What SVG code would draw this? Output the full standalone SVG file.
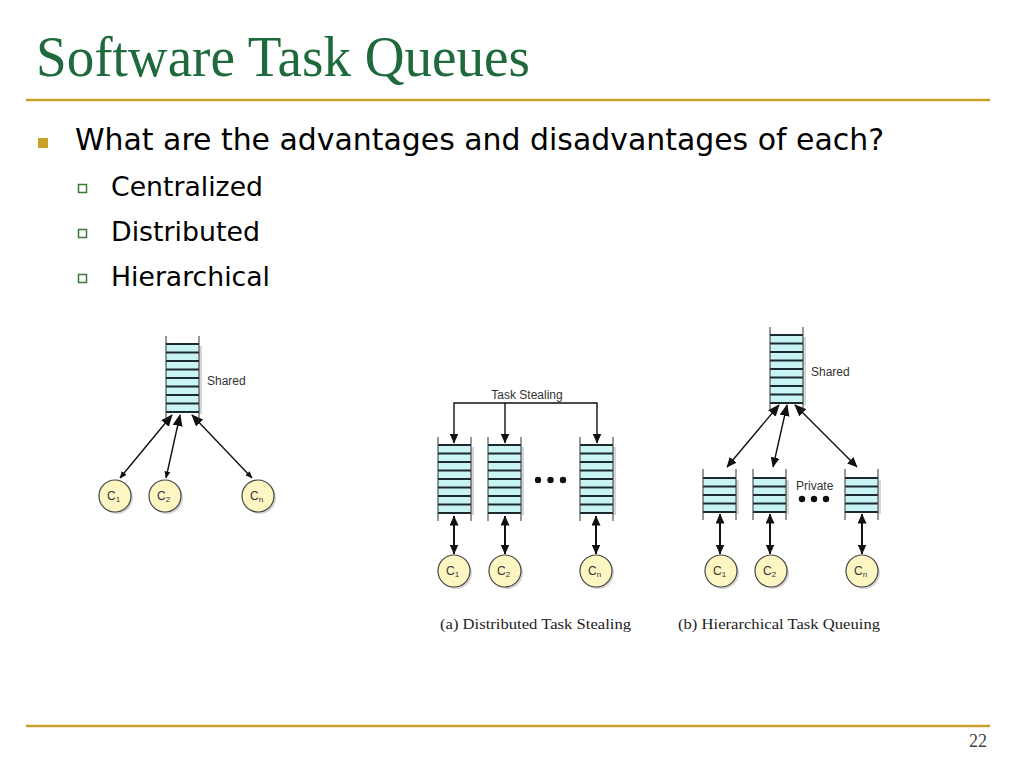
<svg xmlns="http://www.w3.org/2000/svg" xmlns:xlink="http://www.w3.org/1999/xlink" width="1024" height="768" viewBox="0 0 1024 768">
<style>
.title{font-family:"Liberation Serif",serif;font-size:56px;fill:#1e6a3c}
.b1{font-family:"DejaVu Sans",sans-serif;font-size:30px;fill:#000}
.b2{font-family:"DejaVu Sans",sans-serif;font-size:27px;fill:#000}
.lbl{font-family:"Liberation Sans",sans-serif;font-size:12px;fill:#333}
.cl{font-family:"Liberation Sans",sans-serif;font-size:12px;fill:#333}
.cap{font-family:"Liberation Serif",serif;font-size:15px;fill:#222}
.rule{stroke:#c9a02a;stroke-width:2.5}
.conn{stroke:#111;stroke-width:1.4;fill:none}
.conn2{stroke:#111;stroke-width:2;fill:none}
.cell{fill:#c8f4f4}
.hl{stroke:#1b2a30;stroke-width:2.2}
.side{stroke:#333;stroke-width:1}
.shadow{fill:#d6d6d6}
.core{fill:#fdf6c3;stroke:#444;stroke-width:1.2}
.dot{fill:#111}
</style>
<defs>
<marker id="hb" markerUnits="userSpaceOnUse" markerWidth="12" markerHeight="10" refX="11" refY="5" orient="auto-start-reverse"><path d="M0,0 L12,5 L0,10 z" fill="#111"/></marker>
<marker id="hs" markerUnits="userSpaceOnUse" markerWidth="7" markerHeight="6" refX="6.5" refY="3" orient="auto-start-reverse"><path d="M0,0 L7,3 L0,6 z" fill="#111"/></marker>
<marker id="hm" markerUnits="userSpaceOnUse" markerWidth="10" markerHeight="9" refX="9.5" refY="4.5" orient="auto-start-reverse"><path d="M0,0 L10,4.5 L0,9 z" fill="#111"/></marker>
<g id="q8">
<rect class="shadow" x="33" y="2" width="3" height="68"/>
<rect class="cell" x="0" y="0" width="33" height="68"/>
<path class="hl" d="M0,0H33M0,8.5H33M0,17H33M0,25.5H33M0,34H33M0,42.5H33M0,51H33M0,59.5H33M0,68H33"/>
<path class="side" d="M0,-8V76M33,-8V76"/>
</g>
<g id="q4">
<rect class="shadow" x="33" y="2" width="3" height="34"/>
<rect class="cell" x="0" y="0" width="33" height="34"/>
<path class="hl" d="M0,0H33M0,8.5H33M0,17H33M0,25.5H33M0,34H33"/>
<path class="side" d="M0,-9V42M33,-9V42"/>
</g>
<g id="core">
<circle class="shadow" cx="2" cy="2" r="16"/>
<circle class="core" cx="0" cy="0" r="16"/>
</g>
</defs>
<rect width="1024" height="768" fill="#fff"/>

<g id="header">
<text class="title" x="36" y="76" textLength="494" lengthAdjust="spacingAndGlyphs">Software Task Queues</text>
<line class="rule" x1="26" y1="100" x2="990" y2="100"/>
<rect x="38" y="138" width="10" height="10" fill="#c9a02a"/>
<text class="b1" x="75" y="150" textLength="809" lengthAdjust="spacingAndGlyphs">What are the advantages and disadvantages of each?</text>
<rect x="78.5" y="184.5" width="8" height="8" fill="none" stroke="#3a7a3a" stroke-width="1.5"/>
<text class="b2" x="111" y="196" textLength="152" lengthAdjust="spacingAndGlyphs">Centralized</text>
<rect x="78.5" y="229.5" width="8" height="8" fill="none" stroke="#3a7a3a" stroke-width="1.5"/>
<text class="b2" x="111" y="241" textLength="149" lengthAdjust="spacingAndGlyphs">Distributed</text>
<rect x="78.5" y="274.5" width="8" height="8" fill="none" stroke="#3a7a3a" stroke-width="1.5"/>
<text class="b2" x="111" y="286" textLength="159" lengthAdjust="spacingAndGlyphs">Hierarchical</text>
</g>

<g id="connectors">
<line class="conn" x1="120" y1="478" x2="172" y2="415" marker-start="url(#hs)" marker-end="url(#hb)"/>
<line class="conn" x1="166" y1="478" x2="180" y2="415" marker-start="url(#hs)" marker-end="url(#hb)"/>
<line class="conn" x1="252" y1="478" x2="192" y2="415" marker-start="url(#hs)" marker-end="url(#hb)"/>

<path class="conn" d="M454,443V403H597V443" marker-start="url(#hm)" marker-end="url(#hm)"/>
<line class="conn" x1="505" y1="403" x2="505" y2="443" marker-end="url(#hm)"/>
<line class="conn2" x1="454" y1="516" x2="454" y2="554" marker-start="url(#hm)" marker-end="url(#hm)"/>
<line class="conn2" x1="505" y1="516" x2="505" y2="554" marker-start="url(#hm)" marker-end="url(#hm)"/>
<line class="conn2" x1="596" y1="516" x2="596" y2="554" marker-start="url(#hm)" marker-end="url(#hm)"/>

<line class="conn" x1="727" y1="467" x2="779" y2="405" marker-start="url(#hm)" marker-end="url(#hb)"/>
<line class="conn" x1="773" y1="467" x2="787" y2="405" marker-start="url(#hm)" marker-end="url(#hb)"/>
<line class="conn" x1="857" y1="467" x2="795" y2="405" marker-start="url(#hm)" marker-end="url(#hb)"/>
<line class="conn2" x1="720" y1="514" x2="720" y2="554" marker-start="url(#hm)" marker-end="url(#hm)"/>
<line class="conn2" x1="770" y1="514" x2="770" y2="554" marker-start="url(#hm)" marker-end="url(#hm)"/>
<line class="conn2" x1="862" y1="514" x2="862" y2="554" marker-start="url(#hm)" marker-end="url(#hm)"/>
</g>

<g id="central-shared"><use xlink:href="#q8" x="166" y="344"/><text class="lbl" x="207" y="385">Shared</text></g>
<g id="central-c1"><use xlink:href="#core" x="115" y="496"/><text class="cl" x="107" y="500">C<tspan font-size="8" dy="2">1</tspan></text></g>
<g id="central-c2"><use xlink:href="#core" x="165" y="496"/><text class="cl" x="157" y="500">C<tspan font-size="8" dy="2">2</tspan></text></g>
<g id="central-cn"><use xlink:href="#core" x="258" y="496"/><text class="cl" x="250" y="500">C<tspan font-size="8" dy="2">n</tspan></text></g>

<g id="dist-label"><text class="lbl" x="527" y="399" text-anchor="middle">Task Stealing</text></g>
<g id="dist-q1"><use xlink:href="#q8" x="438" y="445"/></g>
<g id="dist-q2"><use xlink:href="#q8" x="488" y="445"/></g>
<g id="dist-q3"><use xlink:href="#q8" x="580" y="445"/></g>
<g id="dist-dots"><circle class="dot" cx="538" cy="480" r="3.2"/><circle class="dot" cx="550.5" cy="480" r="3.2"/><circle class="dot" cx="563" cy="480" r="3.2"/></g>
<g id="dist-c1"><use xlink:href="#core" x="454" y="571"/><text class="cl" x="446" y="575">C<tspan font-size="8" dy="2">1</tspan></text></g>
<g id="dist-c2"><use xlink:href="#core" x="505" y="571"/><text class="cl" x="497" y="575">C<tspan font-size="8" dy="2">2</tspan></text></g>
<g id="dist-cn"><use xlink:href="#core" x="596" y="571"/><text class="cl" x="588" y="575">C<tspan font-size="8" dy="2">n</tspan></text></g>

<g id="hier-shared"><use xlink:href="#q8" x="770" y="335"/><text class="lbl" x="811" y="376">Shared</text></g>
<g id="hier-p1"><use xlink:href="#q4" x="703" y="478"/></g>
<g id="hier-p2"><use xlink:href="#q4" x="753" y="478"/></g>
<g id="hier-p3"><use xlink:href="#q4" x="845" y="478"/></g>
<g id="hier-private"><text class="lbl" x="796" y="490">Private</text><circle class="dot" cx="802" cy="499" r="3.2"/><circle class="dot" cx="814" cy="499" r="3.2"/><circle class="dot" cx="826" cy="499" r="3.2"/></g>
<g id="hier-c1"><use xlink:href="#core" x="721" y="571"/><text class="cl" x="713" y="575">C<tspan font-size="8" dy="2">1</tspan></text></g>
<g id="hier-c2"><use xlink:href="#core" x="771" y="571"/><text class="cl" x="763" y="575">C<tspan font-size="8" dy="2">2</tspan></text></g>
<g id="hier-cn"><use xlink:href="#core" x="862" y="571"/><text class="cl" x="854" y="575">C<tspan font-size="8" dy="2">n</tspan></text></g>

<g id="captions">
<text class="cap" x="440" y="629" textLength="191" lengthAdjust="spacingAndGlyphs">(a) Distributed Task Stealing</text>
<text class="cap" x="678" y="629" textLength="202" lengthAdjust="spacingAndGlyphs">(b) Hierarchical Task Queuing</text>
</g>

<g id="footer">
<line class="rule" x1="26" y1="726" x2="990" y2="726"/>
<text x="987" y="747" text-anchor="end" font-family="Liberation Serif, serif" font-size="18" fill="#444">22</text>
</g>
</svg>
